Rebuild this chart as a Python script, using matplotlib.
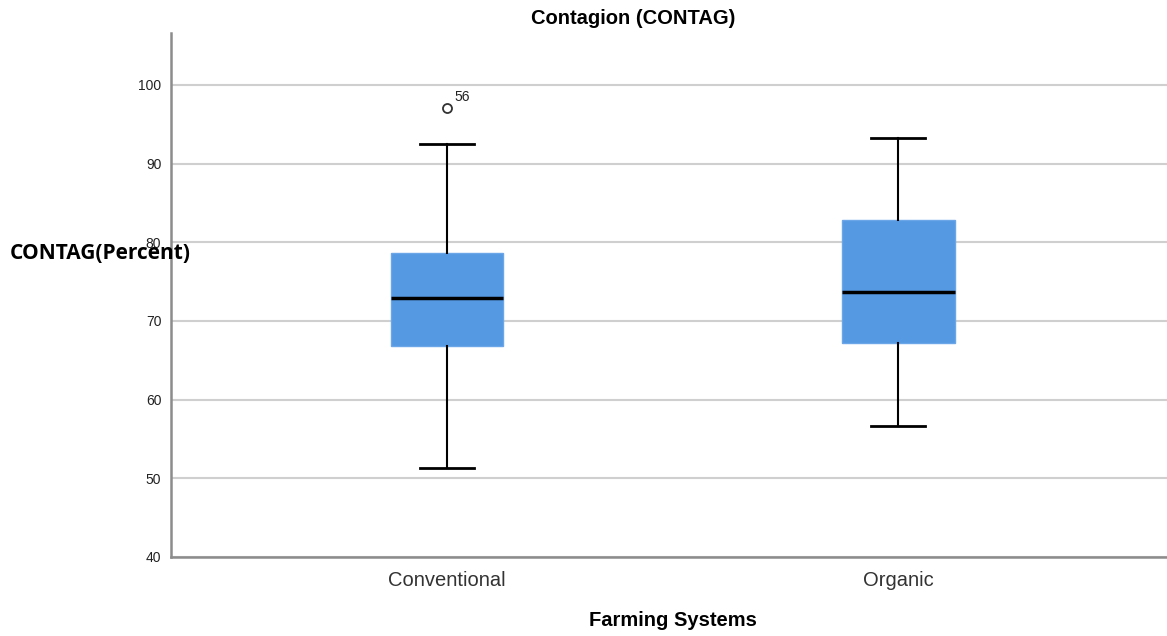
import matplotlib
matplotlib.use("Agg")
import matplotlib.pyplot as plt

# values
groups = ["Conventional", "Organic"]
whisker_low = [51.3, 56.7]
q1 = [66.8, 67.2]
median = [72.9, 73.7]
q3 = [78.6, 82.8]
whisker_high = [92.5, 93.3]
outliers = [[97.1], []]
outlier_ids = [["56"], []]
yticks = [40, 50, 60, 70, 80, 90, 100]

plt.rcParams["font.family"] = ["Liberation Sans", "DejaVu Sans"]

fig = plt.figure(figsize=(11.67, 6.36), dpi=100)
ax = fig.add_axes([171 / 1167, 1 - 557 / 636, 1 - 171 / 1167, (557 - 33) / 636])

stats = []
for i, g in enumerate(groups):
    stats.append(dict(label=g, whislo=whisker_low[i], q1=q1[i], med=median[i],
                      q3=q3[i], whishi=whisker_high[i], fliers=outliers[i]))

ax.bxp(stats, positions=range(len(groups)), widths=0.25, patch_artist=True,
       boxprops=dict(facecolor="#5599e3", edgecolor="#6aa6e8", linewidth=1),
       medianprops=dict(color="black", linewidth=2.5),
       whiskerprops=dict(color="black", linewidth=1.5),
       capprops=dict(color="black", linewidth=2),
       capwidths=0.12,
       flierprops=dict(marker="o", markerfacecolor="white", markeredgecolor="#333333",
                       markersize=6.5, markeredgewidth=1.3),
       zorder=3)

for i, vals in enumerate(outliers):
    for v, lab in zip(vals, outlier_ids[i]):
        ax.annotate(lab, (i, v), xytext=(5, 5), textcoords="offset points",
                    fontsize=10, color="#222222")

ax.set_xlim(-0.612, 1.596)
ax.set_ylim(40, 106.6)
ax.set_yticks(yticks)
ax.yaxis.grid(True, color="#cfcfcf", linewidth=1.5)
ax.set_axisbelow(True)
ax.tick_params(axis="y", length=0, labelsize=10, labelcolor="#222222", pad=7)
ax.tick_params(axis="x", length=0, labelsize=14.5, labelcolor="#333333", pad=10)
for s in ["top", "right"]:
    ax.spines[s].set_visible(False)
for s in ["left", "bottom"]:
    ax.spines[s].set_color("#8c8c8c")
    ax.spines[s].set_linewidth(1.8)

fig.text(633 / 1167, 1 - 18 / 636, "Contagion (CONTAG)", ha="center", va="center",
         fontsize=14.5, fontweight="bold")
fig.text(673 / 1167, 1 - 620 / 636, "Farming Systems", ha="center", va="center",
         fontsize=14.5, fontweight="bold")
fig.text(10 / 1167, 1 - 253 / 636, "CONTAG(Percent)", ha="left", va="center",
         fontsize=15, fontweight="bold", family=["Open Sans", "DejaVu Sans"])

fig.savefig("out.png", dpi=100)
